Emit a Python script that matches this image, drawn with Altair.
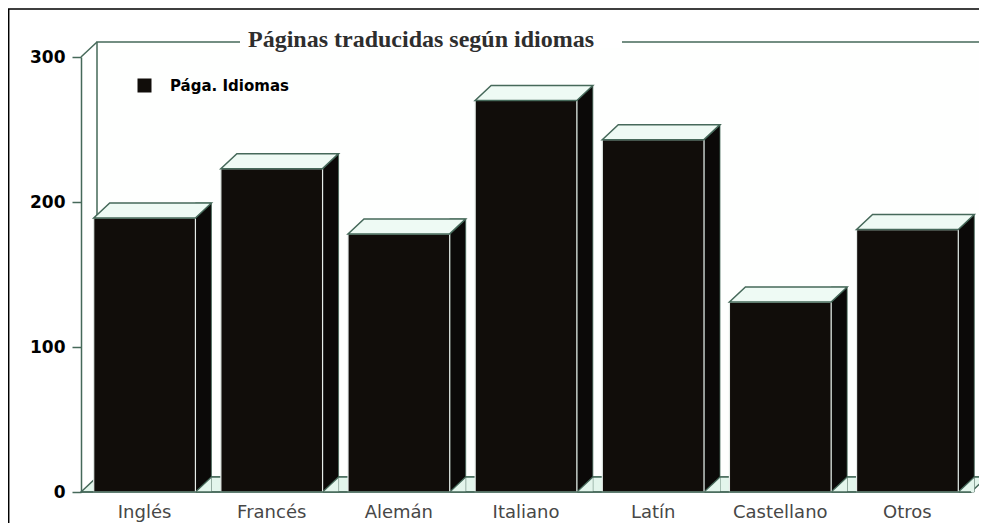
import altair as alt
import pandas as pd

# ---- data ----
languages = ["Inglés", "Francés", "Alemán", "Italiano", "Latín", "Castellano", "Otros"]
pages = [189, 223, 178, 270, 243, 131, 181]
series_name = "Pága. Idiomas"
title_text = "Páginas traducidas según idiomas"
y_ticks = [0, 100, 200, 300]

# ---- style / geometry ----
W, H = 890, 435          # plot area (front plane)
DX, DY = 16, 15          # pseudo-3D depth offset
HALF = W / 7 * 0.8 / 2   # half band width
GREEN = "#46695a"
MINT = "#eefaf4"
FLOOR = "#e3f5ec"
FRONT = "#110d0a"
SIDE = "#0b0908"

df = pd.DataFrame({"idioma": languages, "paginas": pages, "serie": [series_name] * len(languages)})
one = pd.DataFrame({"k": [0]})
ttl = pd.DataFrame({"t": [title_text]})

y_scale = alt.Scale(domain=[0, 300], nice=False, zero=True)
x_scale = alt.Scale(paddingInner=0.2, paddingOuter=0.1)

x_axis = alt.Axis(title=None, domain=False, ticks=False, tickSize=0, labelAngle=0,
                  labelFont="DejaVu Sans", labelFontSize=18, labelColor="#474747",
                  labelPadding=11, labelBaseline="top")
y_axis = alt.Axis(title=None, values=y_ticks, grid=False, domainColor=GREEN, domainWidth=1.5,
                  tickColor=GREEN, tickWidth=1.5, tickSize=9,
                  labelFont="DejaVu Sans", labelFontWeight="bold", labelFontSize=17,
                  labelColor="black", labelPadding=7)

x_enc = alt.X("idioma:N", sort=languages, scale=x_scale, axis=x_axis)
y_enc = alt.Y("paginas:Q", scale=y_scale, axis=y_axis)


def y_at(v):
    return alt.YDatum(v, scale=y_scale, axis=y_axis)


frame = alt.Chart(one).mark_rect(fillOpacity=0, stroke="black", strokeWidth=1.5).encode(
    x=alt.value(-72.3), x2=alt.value(1000), y=alt.value(-48), y2=alt.value(600))

wall = alt.Chart(one).mark_rect(fill="#fefffe", stroke=GREEN, strokeWidth=1.5, opacity=1,
                                yOffset=-DY, y2Offset=-DY).encode(
    x=alt.value(DX), x2=alt.value(W + DX), y=y_at(300), y2=alt.datum(0))

gap = alt.Chart(one).mark_rect(fill="white", opacity=1).encode(
    x=alt.value(159), x2=alt.value(541), y=alt.value(-24), y2=alt.value(-9))

title = alt.Chart(ttl).mark_text(font="Liberation Serif", fontSize=24, fontWeight="bold",
                                 color="#2e2e2e", align="center", baseline="alphabetic").encode(
    text="t:N", x=alt.value(340), y=alt.value(-10))

floor_path = f"M 0 0 L {W} 0 L {W + DX} {-DY} L {DX} {-DY} Z"
floor = alt.Chart(one).mark_point(shape=floor_path, size=4, filled=True, fill=FLOOR, stroke=GREEN,
                                  strokeWidth=1.5, opacity=1).encode(x=alt.value(0), y=y_at(0))

corner = alt.Chart(one).mark_point(shape=f"M 0 0 L {DX} {-DY}", size=4, filled=False, stroke=GREEN,
                                   strokeWidth=1.5, opacity=1).encode(x=alt.value(0), y=y_at(300))

side = alt.Chart(df).mark_bar(width=DX, xOffset=HALF + DX / 2, yOffset=-DY, fill=SIDE, stroke=GREEN,
                              strokeWidth=0.8, opacity=1).encode(
    x=x_enc, y=y_enc, y2=alt.datum(0))

tri = alt.Chart(df).mark_point(shape=f"M {HALF} 0 L {HALF + DX} 0 L {HALF + DX} {-DY} Z", size=4,
                               filled=True, fill=FLOOR, strokeWidth=0, opacity=1).encode(
    x=x_enc, y=y_at(0))

diag = alt.Chart(df).mark_point(shape=f"M {HALF} 0 L {HALF + DX} {-DY}", size=4, filled=False,
                                stroke=GREEN, strokeWidth=1.2, opacity=1).encode(
    x=x_enc, y=y_at(0))

front = alt.Chart(df).mark_bar(stroke="#e6ece9", strokeWidth=1.2, opacity=1).encode(
    x=x_enc, y=y_enc,
    color=alt.Color("serie:N", scale=alt.Scale(range=[FRONT]),
                    legend=alt.Legend(title=None, orient="none", legendX=56, legendY=21,
                                      symbolType="square", symbolSize=196, symbolStrokeWidth=0,
                                      labelFont="DejaVu Sans", labelFontSize=15, labelFontWeight="bold",
                                      labelColor="black", labelOffset=18, padding=0)))

top_path = f"M {-HALF} 0 L {HALF} 0 L {HALF + DX} {-DY} L {-HALF + DX} {-DY} Z"
top = alt.Chart(df).mark_point(shape=top_path, size=4, filled=True, fill=MINT, stroke=GREEN,
                               strokeWidth=1.5, opacity=1).encode(x=x_enc, y=y_enc)

front_line = alt.Chart(one).mark_rule(stroke=GREEN, strokeWidth=1.5).encode(
    x=alt.value(0), x2=alt.value(W), y=y_at(0))

chart = alt.layer(frame, wall, gap, title, floor, corner, side, tri, diag, front, top, front_line).properties(
    width=W, height=H,
    autosize=alt.AutoSizeParams(type="none"),
    padding={"left": 73, "top": 49, "right": 8, "bottom": 31},
    background="white",
).configure_view(stroke=None)

chart.save("out.html", embed_options={"renderer": "svg", "actions": False})
